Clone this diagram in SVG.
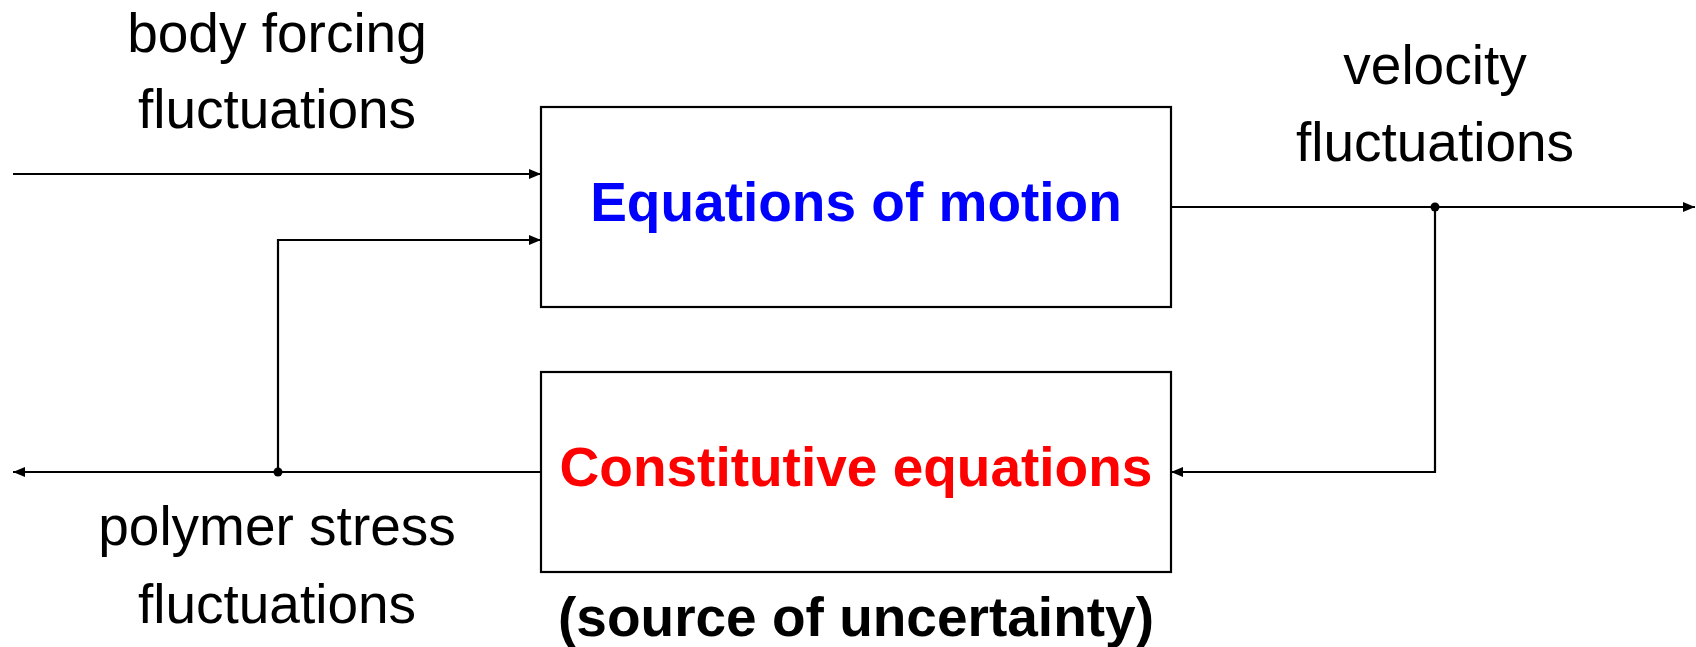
<svg xmlns="http://www.w3.org/2000/svg" width="1696" height="647" viewBox="0 0 1696 647">
<style>
.box{fill:#fff;stroke:#000;stroke-width:2.2}
.ln{fill:none;stroke:#000;stroke-width:2.2}
.lbl{font-family:"Liberation Sans",Arial,sans-serif;font-size:55px;fill:#000;text-anchor:middle}
.big{font-family:"Liberation Sans",Arial,sans-serif;font-size:55px;font-weight:bold;text-anchor:middle}
</style>
<defs>
<marker id="arr" viewBox="0 0 12 10" refX="12" refY="5" markerWidth="12" markerHeight="10" markerUnits="userSpaceOnUse" orient="auto">
<path d="M0,0 L12,5 L0,10 z" fill="#000"/>
</marker>
</defs>
<g id="connectors">
<line class="ln" x1="13" y1="174" x2="541" y2="174" marker-end="url(#arr)"/>
<polyline class="ln" points="278,472 278,240 541,240" marker-end="url(#arr)"/>
<line class="ln" x1="1171" y1="207" x2="1695" y2="207" marker-end="url(#arr)"/>
<polyline class="ln" points="1435,207 1435,472 1171,472" marker-end="url(#arr)"/>
<line class="ln" x1="541" y1="472" x2="13" y2="472" marker-end="url(#arr)"/>
<circle cx="1435" cy="207" r="4.5" fill="#000"/>
<circle cx="278" cy="472" r="4.5" fill="#000"/>
</g>
<g id="motion">
<rect class="box" x="541" y="107" width="630" height="200"/>
<text class="big" x="856" y="221" fill="#0000ff">Equations of motion</text>
</g>
<g id="constitutive">
<rect class="box" x="541" y="372" width="630" height="200"/>
<text class="big" x="856" y="486" fill="#ff0000">Constitutive equations</text>
<text class="big" x="856" y="636" fill="#000">(source of uncertainty)</text>
</g>
<g id="labels">
<text class="lbl" x="277" y="52">body forcing</text>
<text class="lbl" x="277" y="128">fluctuations</text>
<text class="lbl" x="1435" y="84">velocity</text>
<text class="lbl" x="1435" y="161">fluctuations</text>
<text class="lbl" x="277" y="545">polymer stress</text>
<text class="lbl" x="277" y="623">fluctuations</text>
</g>
</svg>
